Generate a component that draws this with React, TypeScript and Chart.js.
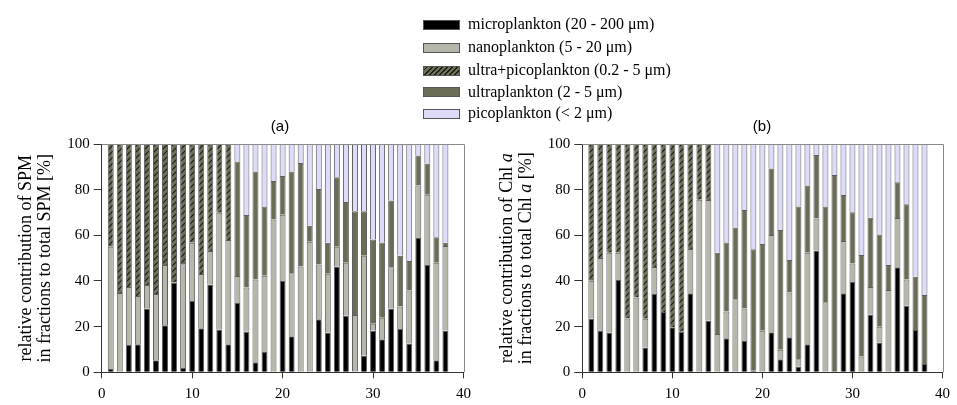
import React, { useEffect, useRef } from 'react';
import { Chart, registerables } from 'chart.js';
Chart.register(...registerables);

// station numbers (x positions)
const stations = [1, 2, 3, 4, 5, 6, 7, 8, 9, 10, 11, 12, 13, 14, 15, 16, 17, 18, 19, 20, 21, 22, 23, 24, 25, 26, 27, 28, 29, 30, 31, 32, 33, 34, 35, 36, 37, 38];
const xTicks = [0, 10, 20, 30, 40];
const yTicks = [0, 20, 40, 60, 80, 100];

const seriesNames = [
  'microplankton (20 - 200 μm)',
  'nanoplankton (5 - 20 μm)',
  'ultra+picoplankton (0.2 - 5 μm)',
  'ultraplankton (2 - 5 μm)',
  'picoplankton (< 2 μm)',
];

// Panel (a): SPM fractions [%]
const spmMicro = [1.5, 0, 12, 12.3, 27.9, 5.3, 20.6, 39.3, 1.9, 31.2, 19.3, 38.5, 18.7, 12.3, 30.4, 17.8, 4.4, 8.9, 0, 40, 15.8, 0, 0, 23.2, 17.4, 46.3, 24.8, 0.4, 7.2, 18.2, 14.5, 27.9, 19, 12.6, 58.8, 47, 5.3, 18.2];
const spmNano = [53.5, 34.7, 25.4, 21.1, 10.3, 29, 26.4, 0, 45.4, 25.6, 23.8, 14.6, 51.2, 45.7, 11.8, 19.3, 36.2, 33.4, 66.9, 29, 27.6, 46.3, 57.2, 24, 25.8, 8.7, 23.2, 24.7, 43.9, 3.1, 9.4, 18.1, 9.8, 23.2, 23, 30.8, 42.7, 37.1];
const spmUltraPico = [45, 65.3, 62.6, 66.6, 61.8, 65.7, 53, 60.7, 52.7, 43.2, 56.9, 46.9, 30.1, 42, 0, 0, 0, 0, 0, 0, 0, 0, 0, 0, 0, 0, 0, 0, 0, 0, 0, 0, 0, 0, 0, 0, 0, 0];
const spmUltra = [0, 0, 0, 0, 0, 0, 0, 0, 0, 0, 0, 0, 0, 0, 50.1, 31.8, 47.3, 30.3, 16.9, 17, 44.5, 45.4, 7, 33.1, 13.6, 30.4, 26.6, 45.4, 19.4, 36.9, 33, 29.3, 22.3, 13, 13.2, 13.7, 11.1, 1.5];
const spmPico = [0, 0, 0, 0, 0, 0, 0, 0, 0, 0, 0, 0, 0, 0, 7.7, 31.1, 12.1, 27.4, 16.2, 14, 12.1, 8.3, 35.8, 19.7, 43.2, 14.6, 25.4, 29.5, 29.5, 41.8, 43.1, 24.7, 48.9, 51.2, 5, 8.5, 40.9, 43.2];

// Panel (b): Chl a fractions [%]
const chlMicro = [23.5, 18.1, 17.4, 40.4, 0, 0, 10.9, 34.3, 26.4, 19.7, 17.8, 34.6, 0, 22.6, 0, 14.9, 0, 13.7, 0.7, 0, 17.5, 5.7, 15.3, 2.5, 12.3, 53.3, 0, 0, 34.6, 39.6, 0, 25.3, 13.1, 0, 46, 29.2, 18.5, 3.6];
const chlNano = [16.6, 32, 35, 12, 23.6, 32.8, 12.6, 11.8, 0, 0, 0, 19.4, 75.6, 52.9, 16.8, 11.7, 32, 14.2, 0, 18.2, 42.6, 4.2, 19.6, 3.2, 40.1, 14.1, 30.7, 0, 22.9, 8.1, 6.9, 12.1, 6.8, 36.1, 21.6, 11.4, 0, 0];
const chlUltraPico = [59.9, 49.9, 47.6, 47.6, 76.4, 67.2, 76.5, 53.9, 73.6, 80.3, 82.2, 46, 24.4, 24.5, 0, 0, 0, 0, 0, 0, 0, 0, 0, 0, 0, 0, 0, 0, 0, 0, 0, 0, 0, 0, 0, 0, 0, 0];
const chlUltra = [0, 0, 0, 0, 0, 0, 0, 0, 0, 0, 0, 0, 0, 0, 35.6, 30.3, 31.4, 43.2, 53.2, 38, 29.2, 52.4, 14.3, 66.9, 29.4, 27.8, 41.9, 86.4, 20.2, 22.4, 44.5, 30.3, 40.5, 10.9, 15.6, 33, 23.3, 30.3];
const chlPico = [0, 0, 0, 0, 0, 0, 0, 0, 0, 0, 0, 0, 0, 0, 47.6, 43.1, 36.6, 28.9, 46.1, 43.8, 10.7, 37.7, 50.8, 27.4, 18.2, 4.8, 27.4, 13.6, 22.3, 29.9, 48.6, 32.3, 39.6, 53, 16.8, 26.4, 58.2, 66.1];

const SERIF = '"Liberation Serif", "Times New Roman", serif';
const COLORS = {
  micro: '#000000',
  nano: '#b6b7aa',
  hatchBg: '#6f705a',
  hatchLine: '#1c1c14',
  ultra: '#6b6c55',
  pico: '#dcdcfa',
  border: '#5e5e5e',
};

function makeHatch(): CanvasPattern | string {
  const c = document.createElement('canvas');
  c.width = 6;
  c.height = 6;
  const g = c.getContext('2d');
  if (!g) return COLORS.hatchBg;
  g.fillStyle = COLORS.hatchBg;
  g.fillRect(0, 0, 6, 6);
  g.strokeStyle = COLORS.hatchLine;
  g.lineWidth = 1.2;
  g.beginPath();
  g.moveTo(0, 6); g.lineTo(6, 0);
  g.moveTo(-1, 1); g.lineTo(1, -1);
  g.moveTo(5, 7); g.lineTo(7, 5);
  g.stroke();
  return g.createPattern(c, 'repeat') || COLORS.hatchBg;
}

type Seg = { text: string; italic?: boolean };

function yTitlePlugin(lines: Seg[][]) {
  return {
    id: 'ytitle',
    afterDraw(chart: any) {
      const { ctx, chartArea: a } = chart;
      const cy = (a.top + a.bottom) / 2;
      const offsets = [75, 56];
      ctx.save();
      ctx.fillStyle = '#000';
      ctx.textBaseline = 'middle';
      ctx.textAlign = 'left';
      lines.forEach((segs, i) => {
        const fonts = segs.map((s) => `${s.italic ? 'italic ' : ''}18px ${SERIF}`);
        let total = 0;
        const widths = segs.map((s, j) => {
          ctx.font = fonts[j];
          const w = ctx.measureText(s.text).width;
          total += w;
          return w;
        });
        ctx.save();
        ctx.translate(a.left - offsets[i], cy);
        ctx.rotate(-Math.PI / 2);
        let x = -total / 2;
        segs.forEach((s, j) => {
          ctx.font = fonts[j];
          ctx.fillText(s.text, x, 0);
          x += widths[j];
        });
        ctx.restore();
      });
      ctx.restore();
    },
  };
}

const framePlugin = {
  id: 'frame',
  afterDatasetsDraw(chart: any) {
    const { ctx, chartArea: a } = chart;
    ctx.save();
    ctx.strokeStyle = '#8a8a8a';
    ctx.lineWidth = 1;
    ctx.beginPath();
    ctx.moveTo(a.left, Math.round(a.top) + 0.5);
    ctx.lineTo(Math.round(a.right) + 0.5, Math.round(a.top) + 0.5);
    ctx.lineTo(Math.round(a.right) + 0.5, a.bottom);
    ctx.stroke();
    ctx.restore();
  },
};

function toPoints(vals: number[]) {
  return stations.map((s, i) => ({ x: s, y: vals[i] === 0 ? null : vals[i] }));
}

function buildChart(
  canvas: HTMLCanvasElement,
  series: number[][],
  yAxisWidth: number,
  rightPad: number,
  titleLines: Seg[][]
) {
  const hatch = makeHatch();
  const fills = [COLORS.micro, COLORS.nano, hatch, COLORS.ultra, COLORS.pico];
  const datasets = series.map((vals, k) => ({
    label: seriesNames[k],
    data: toPoints(vals),
    backgroundColor: fills[k] as any,
    borderColor: COLORS.border,
    borderWidth: 1,
    barPercentage: 0.66,
    categoryPercentage: 1,
  }));
  return new Chart(canvas, {
    type: 'bar',
    data: { datasets: datasets as any },
    options: {
      animation: false,
      responsive: false,
      maintainAspectRatio: false,
      layout: { padding: { left: 0, right: rightPad, top: 144, bottom: 0 } },
      plugins: { legend: { display: false }, tooltip: { enabled: false }, title: { display: false } },
      scales: {
        x: {
          type: 'linear',
          stacked: true,
          min: 0,
          max: 40,
          offset: false,
          afterFit: (s: any) => { s.height = 32.7; },
          afterBuildTicks: (s: any) => { s.ticks = xTicks.map((v) => ({ value: v })); },
          ticks: {
            stepSize: 10,
            autoSkip: false,
            maxRotation: 0,
            padding: 7,
            color: '#000',
            font: { family: SERIF, size: 15 },
          },
          grid: { display: true, drawOnChartArea: false, drawTicks: true, tickLength: 6, color: '#333', offset: false },
          border: { display: true, color: '#333', width: 1 },
        },
        y: {
          type: 'linear',
          stacked: true,
          min: 0,
          max: 100,
          afterFit: (s: any) => { s.width = yAxisWidth; },
          afterBuildTicks: (s: any) => { s.ticks = yTicks.map((v) => ({ value: v })); },
          ticks: {
            stepSize: 20,
            padding: 4,
            color: '#000',
            font: { family: SERIF, size: 15 },
          },
          grid: { display: true, drawOnChartArea: false, drawTicks: true, tickLength: 8, color: '#333' },
          border: { display: true, color: '#333', width: 1 },
        },
      },
    },
    plugins: [framePlugin, yTitlePlugin(titleLines)],
  } as any);
}

function LegendBox({ kind }: { kind: number }) {
  const bgs = [
    COLORS.micro,
    COLORS.nano,
    `repeating-linear-gradient(-45deg, ${COLORS.hatchBg} 0px, ${COLORS.hatchBg} 2.4px, ${COLORS.hatchLine} 2.4px, ${COLORS.hatchLine} 3.6px)`,
    COLORS.ultra,
    COLORS.pico,
  ];
  return (
    <div
      style={{
        position: 'absolute',
        left: 0,
        top: -4.5,
        width: 35,
        height: 8,
        background: bgs[kind],
        border: '1px solid #555',
      }}
    />
  );
}

export default function App() {
  const refA = useRef<HTMLCanvasElement>(null);
  const refB = useRef<HTMLCanvasElement>(null);

  useEffect(() => {
    const a = buildChart(
      refA.current!,
      [spmMicro, spmNano, spmUltraPico, spmUltra, spmPico],
      101.7,
      10.3,
      [[{ text: 'relative contribution of SPM' }], [{ text: 'in fractions to total SPM [%]' }]]
    );
    const b = buildChart(
      refB.current!,
      [chlMicro, chlNano, chlUltraPico, chlUltra, chlPico],
      104.3,
      8.7,
      [
        [{ text: 'relative contribution of Chl ' }, { text: 'a', italic: true }],
        [{ text: 'in fractions to total Chl ' }, { text: 'a', italic: true }, { text: ' [%]' }],
      ]
    );
    return () => {
      a.destroy();
      b.destroy();
    };
  }, []);

  const legendTops = [24, 47, 70, 91.5, 113];

  return (
    <div style={{ position: 'absolute', left: 0, top: 0, width: 957, height: 405, background: '#fff', overflow: 'hidden' }}>
      <canvas ref={refA} width={478} height={405} style={{ position: 'absolute', left: 0, top: 0 }} />
      <canvas ref={refB} width={479} height={405} style={{ position: 'absolute', left: 478, top: 0 }} />
      {seriesNames.map((name, k) => (
        <div key={k} style={{ position: 'absolute', left: 423, top: legendTops[k], height: 0 }}>
          <LegendBox kind={k} />
          <div
            style={{
              position: 'absolute',
              left: 45,
              top: -10,
              whiteSpace: 'nowrap',
              fontFamily: SERIF,
              fontSize: 16,
              lineHeight: '19px',
              color: '#000',
            }}
          >
            {name}
          </div>
        </div>
      ))}
      <div style={{ position: 'absolute', left: 260, width: 40, top: 117, textAlign: 'center', fontFamily: '"Liberation Sans", Arial, sans-serif', fontSize: 15, lineHeight: '18px' }}>(a)</div>
      <div style={{ position: 'absolute', left: 742, width: 40, top: 117, textAlign: 'center', fontFamily: '"Liberation Sans", Arial, sans-serif', fontSize: 15, lineHeight: '18px' }}>(b)</div>
    </div>
  );
}
